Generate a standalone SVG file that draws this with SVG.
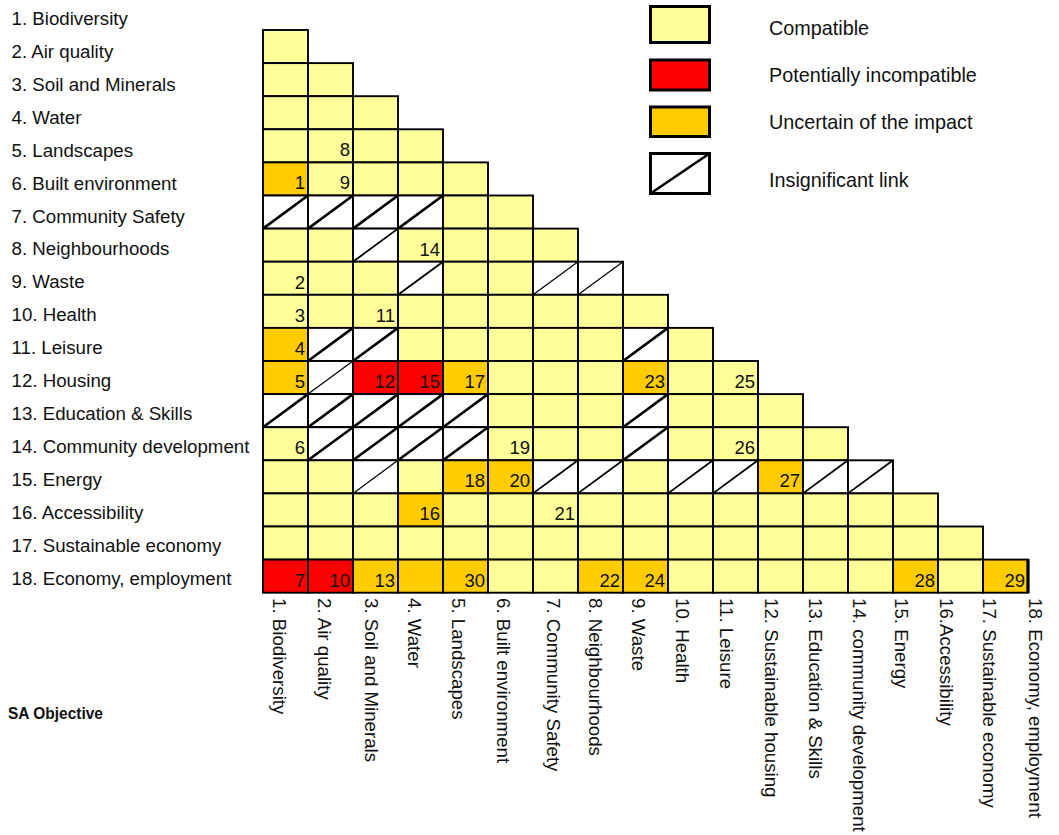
<svg xmlns="http://www.w3.org/2000/svg" width="1059" height="835" viewBox="0 0 1059 835">
<style>
text{font-family:"Liberation Sans",Arial,sans-serif;fill:#111}
.lab{font-size:18.7px}
.leg{font-size:19.8px}
.num{font-size:18.5px;text-anchor:end}
.y,.o,.r,.w{stroke:#000;stroke-width:1.9}
.y{fill:#FFFF99}.o{fill:#FFCC00}.r{fill:#FF0000}.w{fill:#FFFFFF}
line{stroke:#000}
.d{stroke-width:2.6}.dm{stroke-width:1.8}.dt{stroke-width:1.2}
.lb{stroke-width:3}
</style>
<rect x="0" y="0" width="1059" height="835" fill="#fff"/>

<g id="row-labels" class="lab">
<text x="11.5" y="24.8">1. Biodiversity</text>
<text x="11.5" y="57.75">2. Air quality</text>
<text x="11.5" y="90.7">3. Soil and Minerals</text>
<text x="11.5" y="123.65">4. Water</text>
<text x="11.5" y="156.6">5. Landscapes</text>
<text x="11.5" y="189.55">6. Built environment</text>
<text x="11.5" y="222.5">7. Community Safety</text>
<text x="11.5" y="255.45">8. Neighbourhoods</text>
<text x="11.5" y="288.4">9. Waste</text>
<text x="11.5" y="321.35">10. Health</text>
<text x="11.5" y="354.3">11. Leisure</text>
<text x="11.5" y="387.25">12. Housing</text>
<text x="11.5" y="420.2">13. Education &amp; Skills</text>
<text x="11.5" y="453.15">14. Community development</text>
<text x="11.5" y="486.1">15. Energy</text>
<text x="11.5" y="519.05">16. Accessibility</text>
<text x="11.5" y="552">17. Sustainable economy</text>
<text x="11.5" y="584.95">18. Economy, employment</text>
</g>

<g id="column-labels" class="lab">
<text transform="translate(273,598) rotate(90)">1. Biodiversity</text>
<text transform="translate(318,598) rotate(90)">2. Air quality</text>
<text transform="translate(365,598) rotate(90)">3. Soil and Minerals</text>
<text transform="translate(407.5,598) rotate(90)">4. Water</text>
<text transform="translate(452,598) rotate(90)">5. Landscapes</text>
<text transform="translate(497,598) rotate(90)">6. Built environment</text>
<text transform="translate(547,598) rotate(90)">7. Community Safety</text>
<text transform="translate(589,598) rotate(90)">8. Neighbourhoods</text>
<text transform="translate(632,598) rotate(90)">9. Waste</text>
<text transform="translate(676,598) rotate(90)">10. Health</text>
<text transform="translate(720,598) rotate(90)">11. Leisure</text>
<text transform="translate(765,598) rotate(90)">12. Sustainable housing</text>
<text transform="translate(809,598) rotate(90)">13. Education &amp; Skills</text>
<text transform="translate(852.5,598) rotate(90)">14. community development</text>
<text transform="translate(895,598) rotate(90)">15. Energy</text>
<text transform="translate(940,598) rotate(90)">16.Accessibility</text>
<text transform="translate(983,598) rotate(90)">17. Sustainable economy</text>
<text transform="translate(1028.5,598) rotate(90)">18. Economy, employment</text>
</g>

<g id="sa-objective"><text x="8" y="719" font-size="16.5" font-weight="bold" textLength="95" lengthAdjust="spacingAndGlyphs">SA Objective</text></g>

<g id="matrix">
<g id="row-2" transform="translate(0,30)">
<rect class="y" x="263" y="0" width="45" height="33.1"/>
</g>
<g id="row-3" transform="translate(0,63.1)">
<rect class="y" x="263" y="0" width="45" height="33.1"/><rect class="y" x="308" y="0" width="45" height="33.1"/>
</g>
<g id="row-4" transform="translate(0,96.2)">
<rect class="y" x="263" y="0" width="45" height="33.1"/><rect class="y" x="308" y="0" width="45" height="33.1"/><rect class="y" x="353" y="0" width="45" height="33.1"/>
</g>
<g id="row-5" transform="translate(0,129.3)">
<rect class="y" x="263" y="0" width="45" height="33.1"/><rect class="y" x="308" y="0" width="45" height="33.1"/><rect class="y" x="353" y="0" width="45" height="33.1"/><rect class="y" x="398" y="0" width="45" height="33.1"/>
<text class="num" x="350" y="27.1">8</text>
</g>
<g id="row-6" transform="translate(0,162.4)">
<rect class="o" x="263" y="0" width="45" height="33.1"/><rect class="y" x="308" y="0" width="45" height="33.1"/><rect class="y" x="353" y="0" width="45" height="33.1"/><rect class="y" x="398" y="0" width="45" height="33.1"/><rect class="y" x="443" y="0" width="45" height="33.1"/>
<text class="num" x="305" y="27.1">1</text><text class="num" x="350" y="27.1">9</text>
</g>
<g id="row-7" transform="translate(0,195.5)">
<rect class="w" x="263" y="0" width="45" height="33.1"/><rect class="w" x="308" y="0" width="45" height="33.1"/><rect class="w" x="353" y="0" width="45" height="33.1"/><rect class="w" x="398" y="0" width="45" height="33.1"/><rect class="y" x="443" y="0" width="45" height="33.1"/><rect class="y" x="488" y="0" width="45" height="33.1"/>
<line class="d" x1="263" y1="33.1" x2="308" y2="0"/><line class="d" x1="308" y1="33.1" x2="353" y2="0"/><line class="d" x1="353" y1="33.1" x2="398" y2="0"/><line class="d" x1="398" y1="33.1" x2="443" y2="0"/>
</g>
<g id="row-8" transform="translate(0,228.6)">
<rect class="y" x="263" y="0" width="45" height="33.1"/><rect class="y" x="308" y="0" width="45" height="33.1"/><rect class="w" x="353" y="0" width="45" height="33.1"/><rect class="y" x="398" y="0" width="45" height="33.1"/><rect class="y" x="443" y="0" width="45" height="33.1"/><rect class="y" x="488" y="0" width="45" height="33.1"/><rect class="y" x="533" y="0" width="45" height="33.1"/>
<line class="dm" x1="353" y1="33.1" x2="398" y2="0"/>
<text class="num" x="440" y="27.1">14</text>
</g>
<g id="row-9" transform="translate(0,261.7)">
<rect class="y" x="263" y="0" width="45" height="33.1"/><rect class="y" x="308" y="0" width="45" height="33.1"/><rect class="y" x="353" y="0" width="45" height="33.1"/><rect class="w" x="398" y="0" width="45" height="33.1"/><rect class="y" x="443" y="0" width="45" height="33.1"/><rect class="y" x="488" y="0" width="45" height="33.1"/><rect class="w" x="533" y="0" width="45" height="33.1"/><rect class="w" x="578" y="0" width="45" height="33.1"/>
<line class="dm" x1="398" y1="33.1" x2="443" y2="0"/><line class="dt" x1="533" y1="33.1" x2="578" y2="0"/><line class="dt" x1="578" y1="33.1" x2="623" y2="0"/>
<text class="num" x="305" y="27.1">2</text>
</g>
<g id="row-10" transform="translate(0,294.8)">
<rect class="y" x="263" y="0" width="45" height="33.1"/><rect class="y" x="308" y="0" width="45" height="33.1"/><rect class="y" x="353" y="0" width="45" height="33.1"/><rect class="y" x="398" y="0" width="45" height="33.1"/><rect class="y" x="443" y="0" width="45" height="33.1"/><rect class="y" x="488" y="0" width="45" height="33.1"/><rect class="y" x="533" y="0" width="45" height="33.1"/><rect class="y" x="578" y="0" width="45" height="33.1"/><rect class="y" x="623" y="0" width="45" height="33.1"/>
<text class="num" x="305" y="27.1">3</text><text class="num" x="395" y="27.1">11</text>
</g>
<g id="row-11" transform="translate(0,327.9)">
<rect class="o" x="263" y="0" width="45" height="33.1"/><rect class="w" x="308" y="0" width="45" height="33.1"/><rect class="w" x="353" y="0" width="45" height="33.1"/><rect class="y" x="398" y="0" width="45" height="33.1"/><rect class="y" x="443" y="0" width="45" height="33.1"/><rect class="y" x="488" y="0" width="45" height="33.1"/><rect class="y" x="533" y="0" width="45" height="33.1"/><rect class="y" x="578" y="0" width="45" height="33.1"/><rect class="w" x="623" y="0" width="45" height="33.1"/><rect class="y" x="668" y="0" width="45" height="33.1"/>
<line class="d" x1="308" y1="33.1" x2="353" y2="0"/><line class="d" x1="353" y1="33.1" x2="398" y2="0"/><line class="d" x1="623" y1="33.1" x2="668" y2="0"/>
<text class="num" x="305" y="27.1">4</text>
</g>
<g id="row-12" transform="translate(0,361)">
<rect class="o" x="263" y="0" width="45" height="33.1"/><rect class="w" x="308" y="0" width="45" height="33.1"/><rect class="r" x="353" y="0" width="45" height="33.1"/><rect class="r" x="398" y="0" width="45" height="33.1"/><rect class="o" x="443" y="0" width="45" height="33.1"/><rect class="y" x="488" y="0" width="45" height="33.1"/><rect class="y" x="533" y="0" width="45" height="33.1"/><rect class="y" x="578" y="0" width="45" height="33.1"/><rect class="o" x="623" y="0" width="45" height="33.1"/><rect class="y" x="668" y="0" width="45" height="33.1"/><rect class="y" x="713" y="0" width="45" height="33.1"/>
<line class="dt" x1="308" y1="33.1" x2="353" y2="0"/>
<text class="num" x="305" y="27.1">5</text><text class="num" x="395" y="27.1">12</text><text class="num" x="440" y="27.1">15</text><text class="num" x="485" y="27.1">17</text><text class="num" x="665" y="27.1">23</text><text class="num" x="755" y="27.1">25</text>
</g>
<g id="row-13" transform="translate(0,394.1)">
<rect class="w" x="263" y="0" width="45" height="33.1"/><rect class="w" x="308" y="0" width="45" height="33.1"/><rect class="w" x="353" y="0" width="45" height="33.1"/><rect class="w" x="398" y="0" width="45" height="33.1"/><rect class="w" x="443" y="0" width="45" height="33.1"/><rect class="y" x="488" y="0" width="45" height="33.1"/><rect class="y" x="533" y="0" width="45" height="33.1"/><rect class="y" x="578" y="0" width="45" height="33.1"/><rect class="w" x="623" y="0" width="45" height="33.1"/><rect class="y" x="668" y="0" width="45" height="33.1"/><rect class="y" x="713" y="0" width="45" height="33.1"/><rect class="y" x="758" y="0" width="45" height="33.1"/>
<line class="d" x1="263" y1="33.1" x2="308" y2="0"/><line class="d" x1="308" y1="33.1" x2="353" y2="0"/><line class="d" x1="353" y1="33.1" x2="398" y2="0"/><line class="d" x1="398" y1="33.1" x2="443" y2="0"/><line class="d" x1="443" y1="33.1" x2="488" y2="0"/><line class="d" x1="623" y1="33.1" x2="668" y2="0"/>
</g>
<g id="row-14" transform="translate(0,427.2)">
<rect class="y" x="263" y="0" width="45" height="33.1"/><rect class="w" x="308" y="0" width="45" height="33.1"/><rect class="w" x="353" y="0" width="45" height="33.1"/><rect class="w" x="398" y="0" width="45" height="33.1"/><rect class="w" x="443" y="0" width="45" height="33.1"/><rect class="y" x="488" y="0" width="45" height="33.1"/><rect class="y" x="533" y="0" width="45" height="33.1"/><rect class="y" x="578" y="0" width="45" height="33.1"/><rect class="w" x="623" y="0" width="45" height="33.1"/><rect class="y" x="668" y="0" width="45" height="33.1"/><rect class="y" x="713" y="0" width="45" height="33.1"/><rect class="y" x="758" y="0" width="45" height="33.1"/><rect class="y" x="803" y="0" width="45" height="33.1"/>
<line class="d" x1="308" y1="33.1" x2="353" y2="0"/><line class="d" x1="353" y1="33.1" x2="398" y2="0"/><line class="d" x1="398" y1="33.1" x2="443" y2="0"/><line class="d" x1="443" y1="33.1" x2="488" y2="0"/><line class="d" x1="623" y1="33.1" x2="668" y2="0"/>
<text class="num" x="305" y="27.1">6</text><text class="num" x="530" y="27.1">19</text><text class="num" x="755" y="27.1">26</text>
</g>
<g id="row-15" transform="translate(0,460.3)">
<rect class="y" x="263" y="0" width="45" height="33.1"/><rect class="y" x="308" y="0" width="45" height="33.1"/><rect class="w" x="353" y="0" width="45" height="33.1"/><rect class="y" x="398" y="0" width="45" height="33.1"/><rect class="o" x="443" y="0" width="45" height="33.1"/><rect class="o" x="488" y="0" width="45" height="33.1"/><rect class="w" x="533" y="0" width="45" height="33.1"/><rect class="w" x="578" y="0" width="45" height="33.1"/><rect class="y" x="623" y="0" width="45" height="33.1"/><rect class="w" x="668" y="0" width="45" height="33.1"/><rect class="w" x="713" y="0" width="45" height="33.1"/><rect class="o" x="758" y="0" width="45" height="33.1"/><rect class="w" x="803" y="0" width="45" height="33.1"/><rect class="w" x="848" y="0" width="45" height="33.1"/>
<line class="dt" x1="353" y1="33.1" x2="398" y2="0"/><line class="dm" x1="533" y1="33.1" x2="578" y2="0"/><line class="dm" x1="578" y1="33.1" x2="623" y2="0"/><line class="dm" x1="668" y1="33.1" x2="713" y2="0"/><line class="dm" x1="713" y1="33.1" x2="758" y2="0"/><line class="dm" x1="803" y1="33.1" x2="848" y2="0"/><line class="dm" x1="848" y1="33.1" x2="893" y2="0"/>
<text class="num" x="485" y="27.1">18</text><text class="num" x="530" y="27.1">20</text><text class="num" x="800" y="27.1">27</text>
</g>
<g id="row-16" transform="translate(0,493.4)">
<rect class="y" x="263" y="0" width="45" height="33.1"/><rect class="y" x="308" y="0" width="45" height="33.1"/><rect class="y" x="353" y="0" width="45" height="33.1"/><rect class="o" x="398" y="0" width="45" height="33.1"/><rect class="y" x="443" y="0" width="45" height="33.1"/><rect class="y" x="488" y="0" width="45" height="33.1"/><rect class="y" x="533" y="0" width="45" height="33.1"/><rect class="y" x="578" y="0" width="45" height="33.1"/><rect class="y" x="623" y="0" width="45" height="33.1"/><rect class="y" x="668" y="0" width="45" height="33.1"/><rect class="y" x="713" y="0" width="45" height="33.1"/><rect class="y" x="758" y="0" width="45" height="33.1"/><rect class="y" x="803" y="0" width="45" height="33.1"/><rect class="y" x="848" y="0" width="45" height="33.1"/><rect class="y" x="893" y="0" width="45" height="33.1"/>
<text class="num" x="440" y="27.1">16</text><text class="num" x="575" y="27.1">21</text>
</g>
<g id="row-17" transform="translate(0,526.5)">
<rect class="y" x="263" y="0" width="45" height="33.1"/><rect class="y" x="308" y="0" width="45" height="33.1"/><rect class="y" x="353" y="0" width="45" height="33.1"/><rect class="y" x="398" y="0" width="45" height="33.1"/><rect class="y" x="443" y="0" width="45" height="33.1"/><rect class="y" x="488" y="0" width="45" height="33.1"/><rect class="y" x="533" y="0" width="45" height="33.1"/><rect class="y" x="578" y="0" width="45" height="33.1"/><rect class="y" x="623" y="0" width="45" height="33.1"/><rect class="y" x="668" y="0" width="45" height="33.1"/><rect class="y" x="713" y="0" width="45" height="33.1"/><rect class="y" x="758" y="0" width="45" height="33.1"/><rect class="y" x="803" y="0" width="45" height="33.1"/><rect class="y" x="848" y="0" width="45" height="33.1"/><rect class="y" x="893" y="0" width="45" height="33.1"/><rect class="y" x="938" y="0" width="45" height="33.1"/>
</g>
<g id="row-18" transform="translate(0,559.6)">
<rect class="r" x="263" y="0" width="45" height="33.1"/><rect class="r" x="308" y="0" width="45" height="33.1"/><rect class="o" x="353" y="0" width="45" height="33.1"/><rect class="o" x="398" y="0" width="45" height="33.1"/><rect class="o" x="443" y="0" width="45" height="33.1"/><rect class="y" x="488" y="0" width="45" height="33.1"/><rect class="y" x="533" y="0" width="45" height="33.1"/><rect class="o" x="578" y="0" width="45" height="33.1"/><rect class="o" x="623" y="0" width="45" height="33.1"/><rect class="y" x="668" y="0" width="45" height="33.1"/><rect class="y" x="713" y="0" width="45" height="33.1"/><rect class="y" x="758" y="0" width="45" height="33.1"/><rect class="y" x="803" y="0" width="45" height="33.1"/><rect class="y" x="848" y="0" width="45" height="33.1"/><rect class="o" x="893" y="0" width="45" height="33.1"/><rect class="y" x="938" y="0" width="45" height="33.1"/><rect class="o" x="983" y="0" width="45" height="33.1"/>
<line x1="1028" y1="-0.5" x2="1028" y2="33.6" stroke-width="3.2"/>
<text class="num" x="305" y="27.1">7</text><text class="num" x="350" y="27.1">10</text><text class="num" x="395" y="27.1">13</text><text class="num" x="485" y="27.1">30</text><text class="num" x="620" y="27.1">22</text><text class="num" x="665" y="27.1">24</text><text class="num" x="935" y="27.1">28</text><text class="num" x="1025" y="27.1">29</text>
</g>
</g>

<g id="legend">
<g id="legend-compatible"><rect class="y lb" x="650.5" y="6.5" width="59" height="36"/><text class="leg" x="769" y="35">Compatible</text></g>
<g id="legend-incompatible"><rect class="r lb" x="650.5" y="60" width="59" height="30"/><text class="leg" x="769" y="81.7">Potentially incompatible</text></g>
<g id="legend-uncertain"><rect class="o lb" x="650.5" y="107" width="59" height="29.5"/><text class="leg" x="769" y="129.3">Uncertain of the impact</text></g>
<g id="legend-insignificant"><rect class="w lb" x="650.5" y="153.5" width="59" height="40"/><line class="d" x1="650.5" y1="193.5" x2="709.5" y2="153.5"/><text class="leg" x="769" y="187.3">Insignificant link</text></g>
</g>
</svg>
